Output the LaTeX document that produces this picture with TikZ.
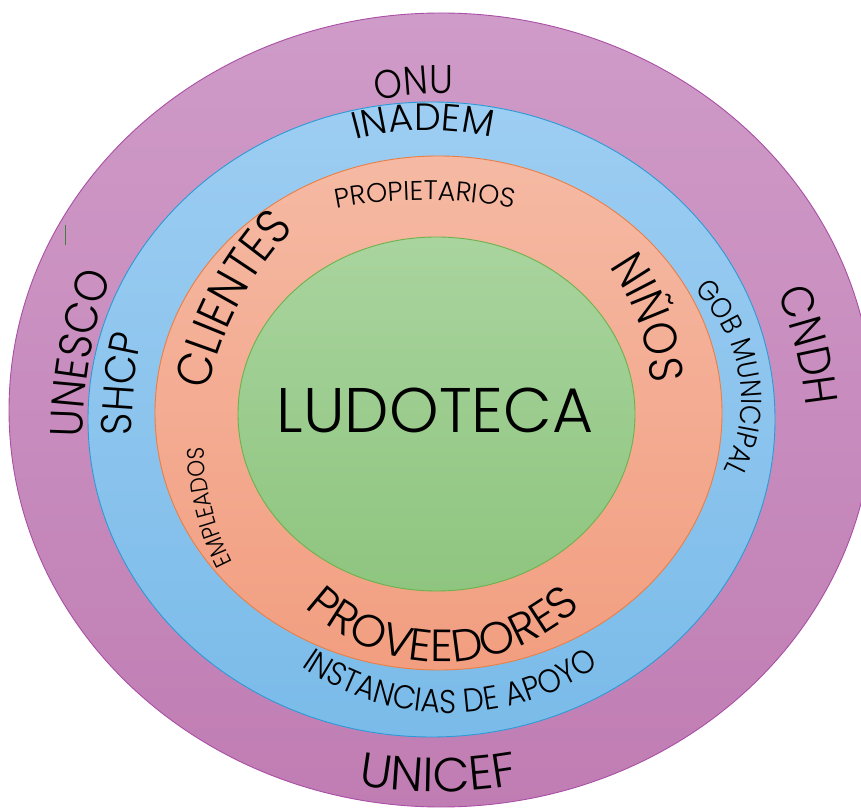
\documentclass[tikz,border=0pt]{standalone}
\usepackage{fontspec}
\newfontfamily\pA[FakeStretch=0.9]{Poppins Light}
\newfontfamily\pB{Poppins Light}
\usetikzlibrary{decorations.text}
\newcommand\tf[1]{\fontsize{#1}{#1}\selectfont\pA}
\newcommand\tg[1]{\fontsize{#1}{#1}\selectfont\pB}
\definecolor{purT}{HTML}{CF9BC8}
\definecolor{purD}{HTML}{C07DB3}
\definecolor{purL}{HTML}{A94FA6}
\definecolor{bluT}{HTML}{9DCDF2}
\definecolor{bluD}{HTML}{7ABBE9}
\definecolor{bluL}{HTML}{2B9BD6}
\definecolor{salT}{HTML}{F5B9A3}
\definecolor{salD}{HTML}{F29E80}
\definecolor{salL}{HTML}{E97F45}
\definecolor{grnT}{HTML}{A9D49E}
\definecolor{grnD}{HTML}{8EC57F}
\definecolor{grnL}{HTML}{6DB24C}
\definecolor{tickc}{HTML}{3F7F3F}
\tikzset{
  ring/.style={line width=0.9pt},
  arctext/.style={decorate, decoration={text along path, text align=center, text={#1}}},
}
\begin{document}
\begin{tikzpicture}[x=1pt,y=1pt]
\useasboundingbox (0,0) rectangle (861,808);
% rings
\path[ring, draw=purL, top color=purT, bottom color=purD] (441,398) ellipse [x radius=432pt, y radius=397pt];
\path[ring, draw=bluL, top color=bluT, bottom color=bluD] (431.5,388.5) ellipse [x radius=343.5pt, y radius=317.5pt];
\path[ring, draw=salL, top color=salT, bottom color=salD] (438.5,395) ellipse [x radius=283.5pt, y radius=257pt];
\path[ring, draw=grnL, top color=grnT, bottom color=grnD] (436.5,394) ellipse [x radius=198.5pt, y radius=177pt];
% small mark
\draw[tickc, line width=0.8pt] (65,583) -- (65,563);
% centre
\node[font=\tg{63}, inner sep=0pt] (lud) at (435,398) {LUDOTECA};
% top texts
\path[arctext={|\tf{40}|ONU}, shift={(441,414)}] (125:300) arc[start angle=125, end angle=65, radius=300pt];
\path[arctext={|\tg{38}|INADEM}, shift={(428,406)}] (130:272) arc[start angle=130, end angle=52, radius=272pt];
\path[arctext={|\tg{27}|PROPIETARIOS}, shift={(425,158)}] (110:450) arc[start angle=110, end angle=70, radius=450pt];
% left texts
\path[arctext={|\tf{49}|CLIENTES}, shift={(540,345)}] (182:340) arc[start angle=182, end angle=122, radius=340pt];
\path[arctext={|\tf{46}|UNESCO}, shift={(583,366)}] (190:500) arc[start angle=190, end angle=150, radius=500pt];
\path[arctext={|\tf{43}|SHCP}, shift={(532,381)}] (194:400) arc[start angle=194, end angle=154, radius=400pt];
\path[arctext={|\tf{24}|EMPLEADOS}, shift={(466,365)}] (224:262) arc[start angle=224, end angle=164, radius=262pt];
% right texts
\path[arctext={|\tf{47}|NIÑOS}, shift={(435,413)}] (64.7:216) arc[start angle=64.7, end angle=-25.3, radius=216pt];
\path[arctext={|\tf{29}|GOB MUNICIPAL}, shift={(591,408)}] (79.35:150) arc[start angle=79.35, end angle=-60.65, radius=150pt];
\path[arctext={|\tf{46}|CNDH}, shift={(408,361)}] (34.2:400) arc[start angle=34.2, end angle=-5.8, radius=400pt];
% bottom texts
\path[arctext={|\tg{45}|PROVEEDORES}, shift={(443,346)}] (195:200) arc[start angle=195, end angle=345, radius=200pt];
\path[arctext={|\tf{33}|INSTANCIAS DE APOYO}, shift={(450,355)}] (200:260) arc[start angle=200, end angle=340, radius=260pt];
\path[arctext={|\tg{48}|UNICEF}, shift={(438,466)}] (250:450) arc[start angle=250, end angle=290, radius=450pt];
\end{tikzpicture}
\end{document}
